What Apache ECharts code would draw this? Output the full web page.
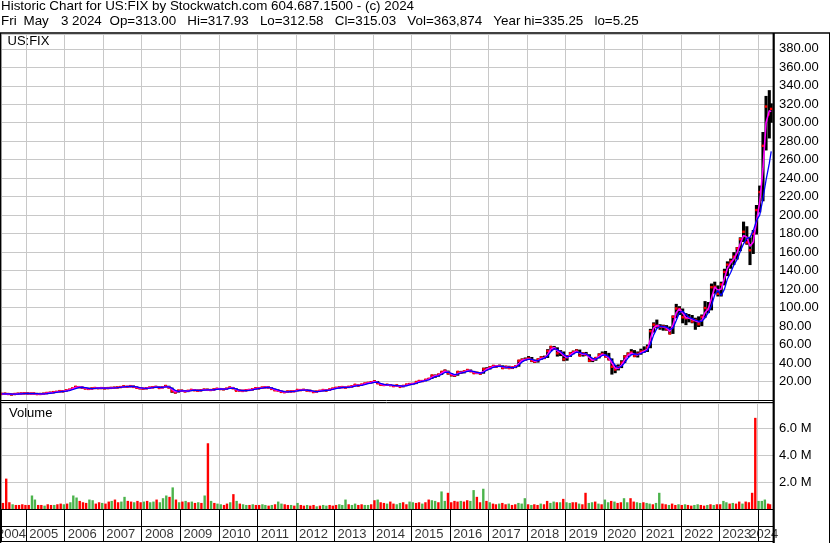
<!DOCTYPE html>
<html><head><meta charset="utf-8">
<script src="https://cdn.jsdelivr.net/npm/echarts@6/dist/echarts.min.js"></script>
<style>html,body{margin:0;padding:0;background:#fff}#c{width:830px;height:543px}</style>
</head><body><div id="c"></div><script>
// ---- categories: months (mid-month, last = last trading day shown)
const months = [
 ['2004-05','2004-06','2004-07','2004-08','2004-09','2004-10','2004-11','2004-12'],
 ['2005-01','2005-02','2005-03','2005-04','2005-05','2005-06','2005-07','2005-08','2005-09','2005-10','2005-11','2005-12'],
 ['2006-01','2006-02','2006-03','2006-04','2006-05','2006-06','2006-07','2006-08','2006-09','2006-10','2006-11','2006-12'],
 ['2007-01','2007-02','2007-03','2007-04','2007-05','2007-06','2007-07','2007-08','2007-09','2007-10','2007-11','2007-12'],
 ['2008-01','2008-02','2008-03','2008-04','2008-05','2008-06','2008-07','2008-08','2008-09','2008-10','2008-11','2008-12'],
 ['2009-01','2009-02','2009-03','2009-04','2009-05','2009-06','2009-07','2009-08','2009-09','2009-10','2009-11','2009-12'],
 ['2010-01','2010-02','2010-03','2010-04','2010-05','2010-06','2010-07','2010-08','2010-09','2010-10','2010-11','2010-12'],
 ['2011-01','2011-02','2011-03','2011-04','2011-05','2011-06','2011-07','2011-08','2011-09','2011-10','2011-11','2011-12'],
 ['2012-01','2012-02','2012-03','2012-04','2012-05','2012-06','2012-07','2012-08','2012-09','2012-10','2012-11','2012-12'],
 ['2013-01','2013-02','2013-03','2013-04','2013-05','2013-06','2013-07','2013-08','2013-09','2013-10','2013-11','2013-12'],
 ['2014-01','2014-02','2014-03','2014-04','2014-05','2014-06','2014-07','2014-08','2014-09','2014-10','2014-11','2014-12'],
 ['2015-01','2015-02','2015-03','2015-04','2015-05','2015-06','2015-07','2015-08','2015-09','2015-10','2015-11','2015-12'],
 ['2016-01','2016-02','2016-03','2016-04','2016-05','2016-06','2016-07','2016-08','2016-09','2016-10','2016-11','2016-12'],
 ['2017-01','2017-02','2017-03','2017-04','2017-05','2017-06','2017-07','2017-08','2017-09','2017-10','2017-11','2017-12'],
 ['2018-01','2018-02','2018-03','2018-04','2018-05','2018-06','2018-07','2018-08','2018-09','2018-10','2018-11','2018-12'],
 ['2019-01','2019-02','2019-03','2019-04','2019-05','2019-06','2019-07','2019-08','2019-09','2019-10','2019-11','2019-12'],
 ['2020-01','2020-02','2020-03','2020-04','2020-05','2020-06','2020-07','2020-08','2020-09','2020-10','2020-11','2020-12'],
 ['2021-01','2021-02','2021-03','2021-04','2021-05','2021-06','2021-07','2021-08','2021-09','2021-10','2021-11','2021-12'],
 ['2022-01','2022-02','2022-03','2022-04','2022-05','2022-06','2022-07','2022-08','2022-09','2022-10','2022-11','2022-12'],
 ['2023-01','2023-02','2023-03','2023-04','2023-05','2023-06','2023-07','2023-08','2023-09','2023-10','2023-11','2023-12'],
 ['2024-01','2024-02','2024-03','2024-04','2024-05-03']
];
// ---- price series (US$), one row per year
const closes = [
 [6.6,6.8,6.5,6.0,6.5,6.8,7.0,7.2],
 [7.0,6.9,7.0,6.4,6.5,6.8,7.6,7.9,8.5,8.8,9.6,9.3],
 [10.5,11.2,12.6,14.3,13.9,13.4,12.4,12.0,12.5,13.0,12.8,12.9],
 [12.6,12.9,13.1,13.3,13.6,14.0,14.8,14.3,15.0,14.2,13.2,12.6],
 [12.3,12.8,13.4,13.8,14.2,13.0,13.8,15.2,13.5,9.5,8.2,10.3],
 [10.0,9.2,10.0,11.0,10.5,10.0,10.6,11.3,11.0,10.8,11.5,12.2],
 [11.8,11.6,12.3,13.6,12.6,10.0,10.4,9.8,10.6,10.9,11.6,12.8],
 [12.6,13.5,13.8,13.6,12.0,10.5,10.2,8.8,8.4,9.3,9.2,9.5],
 [10.9,10.7,11.0,10.2,9.8,8.6,9.2,10.0,10.8,10.2,11.5,12.4],
 [13.2,13.6,14.0,13.4,14.3,14.8,16.5,15.5,16.8,17.9,18.6,19.2],
 [20.2,18.0,16.5,16.2,16.5,16.0,15.0,15.8,14.2,15.3,16.8,17.3],
 [17.5,19.5,20.6,20.5,22.0,23.0,26.5,26.0,27.5,30.5,31.6,28.9],
 [27.0,26.5,30.5,29.5,31.0,32.5,31.0,29.0,29.5,28.5,33.5,33.5],
 [35.5,36.8,36.5,36.9,34.5,36.0,34.5,35.5,36.5,42.5,43.5,43.8],
 [45.0,42.5,41.5,44.0,46.0,45.5,53.0,57.5,56.0,50.5,52.0,44.0],
 [47.0,50.5,52.0,53.5,48.0,50.5,49.0,42.5,43.5,45.5,49.0,49.8],
 [47.0,44.0,36.0,33.0,35.5,40.5,47.0,50.0,51.5,47.5,50.0,52.5],
 [53.0,57.0,74.5,81.5,80.0,79.0,79.5,76.5,72.0,90.0,99.0,98.5],
 [89.5,88.5,89.0,85.0,86.5,82.0,90.0,99.5,98.0,122.0,122.5,115.0],
 [125.0,138.5,146.5,150.0,155.0,164.0,174.0,182.0,170.5,162.0,180.0,205.5],
 [225.0,275.0,317.5,309.0,315.0]
];
const highs = [
 [7.2,7.4,7.0,6.7,6.9,7.2,7.5,7.6],
 [7.6,7.4,7.5,7.1,6.9,7.2,7.9,8.2,8.8,9.2,9.9,9.9],
 [10.8,11.6,12.9,15.2,14.8,14.2,13.6,12.7,12.9,13.4,13.3,13.4],
 [13.1,13.3,13.5,13.8,14.0,14.5,15.4,15.0,15.5,15.4,14.4,13.4],
 [12.9,13.3,13.9,14.4,14.8,14.4,14.4,16.2,15.4,13.4,9.6,10.9],
 [11.0,10.4,10.4,11.5,11.4,10.8,11.0,11.8,11.8,11.4,11.9,12.6],
 [12.6,12.1,12.7,14.2,14.0,12.7,10.9,10.8,11.0,11.3,12.0,13.2],
 [13.2,13.9,14.2,14.2,13.7,12.2,11.0,10.4,9.6,9.8,9.8,10.0],
 [11.3,11.2,11.4,11.1,10.5,10.0,9.6,10.4,11.1,11.0,11.8,12.8],
 [13.6,14.1,14.5,14.1,14.8,15.3,17.0,16.6,17.2,18.3,19.1,20.0],
 [21.3,20.4,18.4,17.0,17.0,16.8,16.2,16.4,16.0,15.8,17.4,18.0],
 [18.0,20.0,21.2,21.3,22.6,23.6,27.5,27.6,28.5,31.2,33.0,31.8],
 [29.0,28.0,31.2,31.5,31.8,33.2,33.0,31.5,30.5,30.0,35.0,35.5],
 [36.8,38.0,37.5,38.2,37.5,37.0,37.0,36.2,37.5,43.5,45.0,46.0],
 [47.5,46.5,43.8,45.0,47.5,48.0,55.0,58.5,58.5,57.0,54.0,52.5],
 [48.5,52.0,53.5,55.0,54.5,51.5,52.0,49.5,45.5,46.5,50.5,52.5],
 [53.0,51.0,45.0,38.0,38.5,43.0,48.5,51.5,55.0,54.0,52.5,55.5],
 [58.0,60.0,77.0,84.0,87.0,82.0,81.5,81.0,79.5,91.5,104.0,101.5],
 [99.0,94.0,93.0,92.0,89.0,90.5,92.5,107.0,106.0,126.0,128.0,124.0],
 [128.0,142.0,150.0,153.0,160.0,165.5,176.0,193.0,188.0,176.0,184.0,211.0],
 [232.0,290.0,329.0,335.25,321.0]
];
const lows = [
 [6.1,6.3,6.0,5.25,5.9,6.3,6.6,6.8],
 [6.7,6.6,6.6,6.2,6.2,6.4,6.7,7.4,7.8,8.3,8.8,9.0],
 [9.3,10.3,11.1,12.5,13.1,12.6,11.8,11.4,11.8,12.4,12.3,12.4],
 [12.1,12.4,12.7,12.9,13.1,13.5,13.9,13.4,14.1,13.8,12.8,12.1],
 [11.5,11.9,12.6,13.2,13.6,12.6,12.8,13.6,12.6,7.8,7.0,8.0],
 [9.4,8.6,8.8,9.8,10.1,9.6,9.8,10.5,10.6,10.2,10.6,11.4],
 [11.2,11.1,11.5,12.3,12.1,9.8,9.6,9.4,9.6,10.3,10.8,11.5],
 [12.0,12.5,13.1,13.2,11.8,10.2,9.9,8.2,8.1,8.3,8.8,9.0],
 [9.5,10.3,10.5,9.9,9.5,8.3,8.4,9.0,9.8,10.0,10.0,11.3],
 [12.4,13.0,13.4,12.9,13.1,14.0,14.7,15.1,15.3,16.6,17.6,18.4],
 [18.5,17.5,15.8,15.6,15.8,15.5,14.6,14.8,13.8,13.8,15.1,16.4],
 [16.5,17.2,19.2,19.6,20.2,21.8,22.8,24.0,25.2,27.2,30.0,27.5],
 [25.5,25.0,26.3,28.5,28.8,30.3,30.5,28.5,28.0,27.5,28.5,32.0],
 [33.0,35.0,35.0,35.8,33.5,34.0,33.8,33.5,34.5,36.0,41.5,42.5],
 [43.5,41.0,40.0,40.5,43.5,44.5,45.5,53.0,54.5,47.0,47.5,42.0],
 [42.5,46.5,49.5,51.0,47.5,47.0,47.5,41.0,41.0,42.5,45.0,48.5],
 [46.0,43.0,27.5,29.0,32.0,34.5,40.0,46.5,49.0,46.5,46.0,49.0],
 [51.0,52.0,56.0,73.0,78.0,76.0,75.0,75.0,71.0,71.5,88.5,92.0],
 [83.0,81.0,84.0,83.0,76.0,79.0,80.0,89.0,94.0,97.0,115.0,112.0],
 [112.0,124.0,134.0,142.0,146.0,152.0,161.0,171.0,168.0,146.0,158.0,179.0],
 [203.0,215.0,270.0,283.0,300.0]
];
// short moving average (magenta) and long moving average (blue)
const maShort = [
 [6.6,6.7,6.6,6.3,6.3,6.6,6.9,7.1],
 [7.1,6.95,6.95,6.7,6.45,6.65,7.2,7.75,8.2,8.65,9.2,9.45],
 [9.9,10.85,11.9,13.5,14.1,13.65,12.9,12.2,12.25,12.75,12.9,12.85],
 [12.75,12.75,13.0,13.2,13.45,13.8,14.4,14.55,14.65,14.6,13.7,12.9],
 [12.45,12.55,13.1,13.6,14.0,13.6,13.4,14.5,14.35,11.5,8.85,9.25],
 [10.15,9.6,9.6,10.5,10.75,10.25,10.3,10.95,11.15,10.9,11.15,11.85],
 [12.0,11.7,11.95,12.95,13.1,11.3,10.2,10.1,10.2,10.75,11.25,12.2],
 [12.7,13.05,13.65,13.7,12.8,11.25,10.35,9.5,8.6,8.85,9.25,9.35],
 [10.2,10.8,10.85,10.6,10.0,9.2,8.9,9.6,10.4,10.5,10.85,11.95],
 [12.8,13.4,13.8,13.7,13.85,14.55,15.65,16.0,16.15,17.35,18.25,18.9],
 [19.7,19.1,17.25,16.35,16.35,16.25,15.5,15.4,15.0,14.75,16.05,17.05],
 [17.4,18.5,20.05,20.55,21.25,22.5,24.75,26.25,26.75,29.0,31.05,30.25],
 [27.95,26.75,28.5,30.0,30.25,31.75,31.75,30.0,29.25,29.0,31.0,33.5],
 [34.5,36.15,36.65,36.7,35.7,35.25,35.25,35.0,36.0,39.5,43.0,43.65],
 [44.4,43.75,42.0,42.75,45.0,45.75,49.25,55.25,56.75,53.25,51.25,48.0],
 [45.5,48.75,51.25,52.75,50.75,49.25,49.75,45.75,43.0,44.5,47.25,49.4],
 [48.4,45.5,40.0,34.5,34.25,38.0,43.75,48.5,50.75,49.5,48.75,51.25],
 [52.75,55.0,65.75,78.0,80.75,79.5,79.25,78.0,74.25,81.0,94.5,98.75],
 [94.0,89.0,88.75,87.0,85.75,84.25,86.0,94.75,98.75,110.0,122.25,118.75],
 [120.0,131.75,142.5,148.25,152.5,159.5,169.0,178.0,176.25,166.25,171.0,192.75],
 [214.0,250.0,300.0,313.0,312.0]
];
const maLong = [
 [6.7,6.7,6.65,6.5,6.4,6.5,6.7,6.9],
 [7.05,7.0,7.0,6.85,6.7,6.65,6.9,7.3,7.8,8.3,8.8,9.2],
 [9.5,10.2,11.1,12.4,13.4,13.8,13.4,12.7,12.4,12.5,12.75,12.85],
 [12.8,12.75,12.9,13.1,13.3,13.6,14.1,14.4,14.6,14.6,14.1,13.4],
 [12.8,12.6,12.85,13.3,13.8,13.8,13.6,14.1,14.3,12.8,10.4,9.4],
 [9.8,9.8,9.6,10.1,10.6,10.5,10.3,10.7,11.0,11.0,11.1,11.6],
 [11.9,11.8,11.85,12.5,12.9,12.0,10.8,10.2,10.2,10.5,11.0,11.7],
 [12.3,12.8,13.3,13.6,13.2,12.0,10.9,10.0,9.1,8.8,9.1,9.3],
 [9.8,10.4,10.7,10.7,10.3,9.6,9.1,9.3,9.9,10.3,10.6,11.4],
 [12.3,13.0,13.5,13.7,13.8,14.2,15.0,15.6,15.9,16.7,17.6,18.3],
 [19.1,19.2,18.0,16.9,16.5,16.3,15.8,15.5,15.2,14.9,15.4,16.4],
 [17.1,17.9,19.2,20.2,20.9,21.8,23.5,25.2,26.2,27.8,29.8,30.2],
 [28.9,27.5,27.9,29.2,30.0,31.0,31.6,30.8,29.8,29.2,30.0,32.2],
 [33.8,35.3,36.2,36.6,36.2,35.6,35.3,35.1,35.5,37.8,41.2,43.1],
 [44.0,44.0,42.8,42.6,44.0,45.3,47.5,52.3,55.5,54.5,52.5,49.5],
 [46.8,47.5,49.8,51.8,51.5,50.2,49.8,47.5,44.8,44.2,46.0,48.2],
 [48.8,47.0,42.8,37.5,35.0,36.5,40.5,45.5,48.8,49.8,49.3,50.3],
 [51.8,53.8,60.0,70.5,77.5,79.5,79.5,78.8,76.5,77.5,86.0,94.5],
 [96.0,92.5,89.5,88.0,86.5,85.2,85.0,89.0,94.5,102.0,114.0,118.5],
 [113.0,120.0,131.0,138.0,146.0,152.0,161.0,169.0,175.0,176.0,183.0,194.0],
 [200.0,218.0,238.0,256.0,269.0]
];
// ---- volume (millions of shares) and bar colour (u = up/green, d = down/red)
const volumes = [
 [0.45,2.25,0.5,0.35,0.3,0.3,0.35,0.3],
 [0.3,1.0,0.7,0.3,0.3,0.25,0.35,0.3,0.3,0.35,0.4,0.35],
 [0.4,0.5,1.0,0.85,0.6,0.5,0.45,0.7,0.65,0.4,0.5,0.45],
 [0.4,0.55,0.6,0.7,0.5,0.55,0.9,0.6,0.55,0.5,0.6,0.5],
 [0.55,0.6,0.5,0.55,0.7,0.5,0.8,1.0,0.9,1.6,0.7,0.5],
 [0.55,0.6,0.5,0.55,0.45,0.5,0.45,1.0,4.87,0.6,0.45,0.4],
 [0.35,0.3,0.4,0.5,1.1,0.6,0.4,0.35,0.3,0.3,0.35,0.3],
 [0.3,0.35,0.3,0.25,0.3,0.35,0.55,0.4,0.35,0.3,0.3,0.25],
 [0.45,0.3,0.25,0.3,0.25,0.3,0.2,0.25,0.3,0.25,0.3,0.25],
 [0.3,0.35,0.3,0.7,0.35,0.3,0.4,0.3,0.35,0.3,0.3,0.35],
 [0.65,0.7,0.5,0.45,0.4,0.55,0.4,0.35,0.45,0.5,0.35,0.55],
 [0.5,0.45,0.5,0.4,0.5,0.7,0.65,0.6,0.5,1.3,0.6,1.2],
 [0.5,0.6,0.55,0.6,0.55,0.65,0.6,1.4,0.9,0.5,1.5,0.6],
 [0.5,0.4,0.35,0.4,0.45,0.35,0.4,0.3,0.35,0.45,0.4,0.8],
 [0.35,0.3,0.35,0.3,0.4,0.35,0.6,0.45,0.55,0.5,0.5,0.75],
 [0.5,0.45,0.5,0.5,0.4,0.35,1.2,0.45,0.5,0.55,0.4,0.35],
 [0.7,0.5,0.6,0.55,0.45,0.5,0.8,0.5,0.8,0.55,0.5,0.45],
 [0.5,0.45,0.4,0.35,0.45,1.2,0.4,0.35,0.3,0.4,0.3,0.35],
 [0.3,0.35,0.3,0.25,0.3,0.35,0.3,0.25,0.3,0.35,0.3,0.35],
 [0.35,0.6,0.5,0.4,0.45,0.4,0.55,0.4,0.55,0.5,1.2,6.75],
 [0.6,0.6,0.7,0.4,0.35]
];
const volDir = ['dddudddd','duuddudduddu','duuuddduuddu','ddudduuddudd','uduuduuududu','dudududududu',
 'uddududuudud','duududuuddud','uddudduduudd','duuuduudduud','duddudduuddu','uddudduuduud',
 'dddudduuddud','udduddudduuu','duddudduudud','uuddudduudud','uududduudduu','duuduudduddu',
 'dudduuddudud','duududdudddd','uuudd'];
// ---- x-axis year labels and where they sit
const yearLabels = ['2004','2005','2006','2007','2008','2009','2010','2011','2012','2013','2014',
 '2015','2016','2017','2018','2019','2020','2021','2022','2023','2024'];
const yearLabelAt = ['2004-08-15','2005-06-17','2006-06-17','2007-06-17','2008-06-17','2009-06-17','2010-06-17',
 '2011-06-17','2012-06-17','2013-06-17','2014-06-17','2015-06-17','2016-06-17','2017-06-17','2018-06-17',
 '2019-06-17','2020-06-17','2021-06-17','2022-06-17','2023-06-12','2024-02-23'];
const priceTicks = {min: 0, max: 396, step: 20, lastLabel: 380};
const volTicks = {min: 0, max: 7.85, step: 2, lastLabel: 6};

// ---------------------------------------------------------------
const dates = months.flat().map(d => d.length === 7 ? d + '-15' : d);
const C = closes.flat(), H = highs.flat(), L = lows.flat(), MS = maShort.flat(), ML = maLong.flat();
const V = volumes.flat(), DIR = volDir.join('');
const FONT = "'Liberation Sans', Arial, sans-serif";
const X_MIN = '2004-05-08', X_MAX = '2024-05-20';
const YEAR_MS = 365.25 * 86400000;

const hlData = dates.map((d, i) => [d, L[i], H[i], C[i]]);
const volData = dates.map((d, i) => ({value: [d, V[i]], itemStyle: {color: DIR[i] === 'd' ? '#ff0000' : '#4cb34c'}}));

function xa(gi, col) {
  return {type: 'time', gridIndex: gi, min: X_MIN, max: X_MAX, splitNumber: 20,
    minInterval: YEAR_MS * 0.98, maxInterval: YEAR_MS * 1.02,
    axisLine: {show: false}, axisTick: {show: false}, axisLabel: {show: false},
    splitLine: {show: true, lineStyle: {color: col, width: 1}}};
}
function ln(x1, y1, x2, y2, w) {
  return {type: 'line', z: 100, silent: true, shape: {x1, y1, x2, y2}, style: {stroke: '#000', lineWidth: w}};
}
function tx(x, y, t, fs) {
  return {type: 'text', z: 100, silent: true, x, y,
    style: {text: t, font: (fs || 13) + 'px ' + FONT, fill: '#000', textVerticalAlign: 'middle', verticalAlign: 'middle'}};
}

const chart = echarts.init(document.getElementById('c'), null, {renderer: 'canvas'});
chart.setOption({
  animation: false,
  backgroundColor: '#fff',
  grid: [
    {left: 1, right: 57, top: 34, height: 366},
    {left: 1, right: 57, top: 403, height: 106},
    {left: 1, right: 57, top: 509, height: 18},
    {left: 1, right: 57, top: 527, height: 15}
  ],
  xAxis: [xa(0, '#c8c8c8'), xa(1, '#c8c8c8'), xa(2, '#000'), xa(3, '#000')],
  yAxis: [
    {type: 'value', gridIndex: 0, position: 'right', min: priceTicks.min, max: priceTicks.max, interval: priceTicks.step,
      axisLine: {show: false}, axisTick: {show: false},
      splitLine: {lineStyle: {color: '#c8c8c8', width: 1}},
      axisLabel: {margin: 6, color: '#000', fontSize: 13, fontFamily: FONT,
        formatter: v => (v > 0 && v <= priceTicks.lastLabel) ? v.toFixed(2) : ''}},
    {type: 'value', gridIndex: 1, position: 'right', min: volTicks.min, max: volTicks.max, interval: volTicks.step,
      axisLine: {show: false}, axisTick: {show: false},
      splitLine: {lineStyle: {color: '#c8c8c8', width: 1}},
      axisLabel: {margin: 6, color: '#000', fontSize: 13, fontFamily: FONT,
        formatter: v => (v > 0 && v <= volTicks.lastLabel) ? v.toFixed(1) + ' M' : ''}},
    {type: 'value', gridIndex: 2, show: false, min: 0, max: 1},
    {type: 'value', gridIndex: 3, show: false, min: 0, max: 1}
  ],
  series: [
    {type: 'custom', xAxisIndex: 0, yAxisIndex: 0, silent: true,
      dimensions: ['time', 'lo', 'hi', 'close'], encode: {x: 'time', y: ['lo', 'hi']},
      data: hlData,
      renderItem: (params, api) => {
        const t = api.value(0);
        const p1 = api.coord([t, api.value(1)]);
        const p2 = api.coord([t, api.value(2)]);
        const pc = api.coord([t, api.value(3)]);
        let y1 = p1[1], y2 = p2[1];
        if (y1 - y2 < 2) { const m = (y1 + y2) / 2; y1 = m + 1; y2 = m - 1; }
        return {type: 'group', children: [
          {type: 'line', shape: {x1: p1[0], y1, x2: p2[0], y2}, style: {stroke: '#000', lineWidth: 3.1}},
          {type: 'rect', shape: {x: pc[0] - 1.3, y: pc[1] - 1.2, width: 2.6, height: 2.4}, style: {fill: '#ff0000'}}
        ]};
      }},
    {type: 'line', xAxisIndex: 0, yAxisIndex: 0, silent: true, showSymbol: false, symbol: 'none',
      data: dates.map((d, i) => [d, MS[i]]), lineStyle: {color: '#ff00ff', width: 1.6}, z: 3},
    {type: 'line', xAxisIndex: 0, yAxisIndex: 0, silent: true, showSymbol: false, symbol: 'none',
      data: dates.map((d, i) => [d, ML[i]]), lineStyle: {color: '#0000ff', width: 1.3}, z: 4},
    {type: 'bar', xAxisIndex: 1, yAxisIndex: 1, silent: true, barWidth: 2.4, data: volData},
    {type: 'scatter', xAxisIndex: 3, yAxisIndex: 3, silent: true, clip: false, symbolSize: 1,
      itemStyle: {color: 'rgba(0,0,0,0)'},
      data: yearLabelAt.map((d, i) => ({name: yearLabels[i], value: [d, 0.5]})),
      label: {show: true, position: 'inside', formatter: '{b}', color: '#000', fontSize: 13, fontFamily: FONT}, z: 10}
  ],
  graphic: [
    tx(1, 6, 'Historic Chart for US:FIX by Stockwatch.com 604.687.1500 - (c) 2024', 13.4),
    tx(1, 21.7, 'Fri', 13.4),
    tx(23.5, 21.7, 'May', 13.4),
    tx(61, 21.7, '3', 13.4),
    tx(72, 21.7, '2024', 13.4),
    tx(109.5, 21.7, 'Op=313.00   Hi=317.93   Lo=312.58   Cl=315.03   Vol=363,874   Year hi=335.25   lo=5.25', 13.4),
    tx(7.5, 41.2, 'US:FIX'),
    tx(9, 413, 'Volume'),
    ln(0, 33, 830, 33, 1.5),
    ln(0.6, 33, 0.6, 543, 1.3),
    ln(773.7, 33, 773.7, 543, 2.2),
    ln(829.5, 33, 829.5, 543, 1),
    ln(0, 400.5, 773, 400.5, 1),
    ln(0, 402.5, 773, 402.5, 1),
    ln(0, 509.5, 773, 509.5, 1.2),
    ln(0, 526.5, 773, 526.5, 1.2),
    ln(0, 541.5, 773, 541.5, 1.2)
  ]
});
</script></body></html>
